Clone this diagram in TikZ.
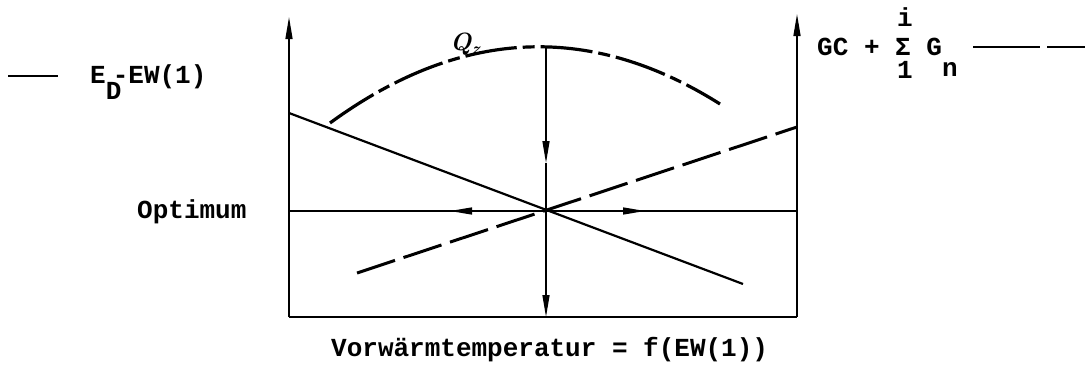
\documentclass[tikz,border=0pt]{standalone}
\usepackage{fontspec}
\setmonofont{Liberation Mono}
\usetikzlibrary{arrows.meta}
\tikzset{
  tw/.style={font=\ttfamily\bfseries\fontsize{26}{28}\selectfont, inner sep=0pt, anchor=base west},
  axis/.style={line width=1.4pt},
  tip/.style={-{Triangle[length=22pt,width=7pt]}},
  thick solid/.style={line width=2.2pt},
  curvedash/.style={line width=3.2pt, dash pattern=on 52pt off 6pt on 12pt off 6pt},
  linedash/.style={line width=3pt, dash pattern=on 40pt off 9pt},
}
\begin{document}
\begin{tikzpicture}[x=1pt,y=-1pt]
\useasboundingbox (0,0) rectangle (1086,364);
% coordinates
\coordinate (bl) at (289,317);
\coordinate (br) at (797,317);
\coordinate (tl) at (289,17);
\coordinate (tr) at (797,14);
\coordinate (ol) at (289,211);
\coordinate (or) at (797,211);
\coordinate (opt) at (547,211);
\coordinate (al) at (450,211);
\coordinate (ar) at (645,211);
\coordinate (peak) at (546,47);
\coordinate (mid) at (546,163);
\coordinate (bot) at (546,317);
% frame / axes
\draw[axis,tip] (bl) -- (tl);
\draw[axis,tip] (br) -- (tr);
\draw[axis] (bl) -- (br);
\draw[axis] (ol) -- (or);
\draw[axis,tip] (opt) -- (al);
\draw[axis,tip] (opt) -- (ar);
\draw[axis,tip] (peak) -- (mid);
\draw[axis,tip] (mid) -- (bot);
% solid diagonal
\coordinate (s1) at (289,113);
\coordinate (s2) at (743,284);
\draw[thick solid] (s1) -- (s2);
% dashed rising line
\coordinate (d1) at (357,273);
\coordinate (d2) at (797,127);
\draw[linedash] (d1) -- (d2);
% Q_z curve
\coordinate (c0) at (330,123);
\coordinate (c3) at (720,104);
\draw[curvedash] (c0) .. controls (460,28) and (590,22) .. (c3);
\node[inner sep=0pt, anchor=base west, font=\rmfamily\bfseries\itshape\fontsize{25}{26}\selectfont] (qz) at (450,50) {Q\raisebox{-4pt}{\fontsize{17}{17}\selectfont z}};
% labels
\coordinate (ldl) at (8,76);
\coordinate (ldr) at (58,76);
\draw[line width=2.4pt] (ldl) -- (ldr);
\node[tw] (ed) at (90,83) {E\rlap{\raisebox{-16pt}{D}}\hspace{7pt}-EW(1)};
\node[tw] (optimum) at (137,218) {Optimum};
\node[tw] (xlab) at (331,356) {Vorwärmtemperatur = f(EW(1))};
\node[tw] (gc) at (817,55) {GC + Σ G};
\node[tw, anchor=base] (isup) at (905,26) {i};
\node[tw, anchor=base] (isub) at (905,78) {1};
\node[tw] (nsub) at (942,76) {n};
\coordinate (rd1) at (973,47);
\coordinate (rd2) at (1040,47);
\coordinate (rd3) at (1047,47);
\coordinate (rd4) at (1085,47);
\draw[line width=2.4pt] (rd1) -- (rd2);
\draw[line width=2.4pt] (rd3) -- (rd4);
\end{tikzpicture}
\end{document}
